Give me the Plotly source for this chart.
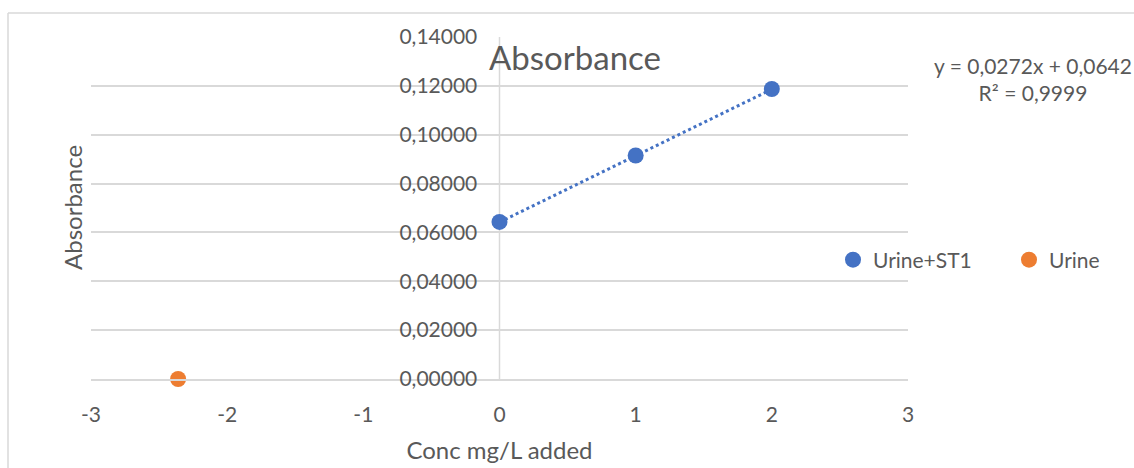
import numpy as np
import plotly.graph_objects as go

# Standard-addition data
conc_added = [0, 1, 2]
absorbance = [0.0643, 0.0915, 0.1187]

# Fitted line reported on the chart
slope = 0.0272
intercept = 0.0642
r_squared = 0.9999

# Extrapolated x-intercept (sample concentration)
urine_x = [-intercept / slope]
urine_y = [0.0]

x_ticks = [-3, -2, -1, 0, 1, 2, 3]
x_tick_labels = ["-3", "-2", "-1", "0", "1", "2", "3"]
y_ticks = [0, 0.02, 0.04, 0.06, 0.08, 0.10, 0.12, 0.14]

BLUE = "#4472C4"
ORANGE = "#ED7D31"
TEXT = "#595959"
GRID = "#D9D9D9"
FONT = "Lato"

# Plot-area geometry in pixels (used to place paper-referenced items)
L, R, T, B = 91, 908, 37, 379
PW, PH = R - L, B - T


def px(x):
    return (x - L) / PW


def py(y):
    return (B - y) / PH


fit_x = np.array([min(conc_added), max(conc_added)])
fit_y = slope * fit_x + intercept

fig = go.Figure()
fig.add_trace(go.Scatter(
    x=fit_x, y=fit_y, mode="lines",
    line=dict(color=BLUE, width=3, dash="dot"),
    showlegend=False, hoverinfo="skip",
))
fig.add_trace(go.Scatter(
    x=conc_added, y=absorbance, mode="markers", name="Urine+ST1",
    marker=dict(color=BLUE, size=16), cliponaxis=False,
))
fig.add_trace(go.Scatter(
    x=urine_x, y=urine_y, mode="markers", name="Urine",
    marker=dict(color=ORANGE, size=16), cliponaxis=False,
))

fig.update_layout(
    width=1134, height=468,
    margin=dict(l=L, r=1134 - R, t=T, b=468 - B, autoexpand=False),
    paper_bgcolor="white", plot_bgcolor="white",
    separators=",.",
    font=dict(family=FONT, color=TEXT, size=21),
    legend=dict(
        orientation="h", x=px(833), y=py(260), xanchor="left", yanchor="middle",
        font=dict(size=21, color=TEXT), entrywidth=131, entrywidthmode="pixels",
        itemwidth=30, bgcolor="rgba(0,0,0,0)",
    ),
    xaxis=dict(
        range=[-3, 3], tickvals=x_ticks, ticktext=x_tick_labels,
        showgrid=False, zeroline=False,
        showline=True, linecolor=GRID, linewidth=1.5,
        ticks="outside", ticklen=16, tickcolor="rgba(0,0,0,0)",
        tickfont=dict(size=21, color=TEXT),
        title=dict(text="Conc mg/L added", font=dict(size=24, color=TEXT), standoff=17),
    ),
    yaxis=dict(
        range=[0, 0.14], tickvals=y_ticks, tickformat=".5f",
        showgrid=True, gridcolor=GRID, gridwidth=1.5,
        zeroline=False, showline=False,
        anchor="free", position=0.5,
        ticks="outside", ticklen=18, tickcolor="rgba(0,0,0,0)",
        tickfont=dict(size=21, color=TEXT),
    ),
    annotations=[
        dict(text="Absorbance", xref="paper", yref="paper",
             x=px(575), y=py(57), showarrow=False,
             font=dict(size=33, color=TEXT), xanchor="center", yanchor="middle"),
        dict(text="Absorbance", xref="paper", yref="paper", textangle=-90,
             x=px(72), y=0.5, showarrow=False,
             font=dict(size=24, color=TEXT), xanchor="center", yanchor="middle"),
        dict(text=f"y = {slope:.4f}x + {intercept:.4f}".replace(".", ",")
             + "<br>" + f"R² = {r_squared:.4f}".replace(".", ","),
             xref="paper", yref="paper",
             x=px(1033), y=py(79), showarrow=False,
             align="center", font=dict(size=21, color=TEXT),
             xanchor="center", yanchor="middle"),
    ],
    shapes=[
        # vertical value axis crossing at x = 0
        dict(type="line", xref="x", yref="y", x0=0, x1=0,
             y0=y_ticks[0], y1=y_ticks[-1], layer="below",
             line=dict(color=GRID, width=1.5)),
        # chart border
        dict(type="line", xref="paper", yref="paper",
             x0=px(8), x1=px(1140), y0=py(13), y1=py(13),
             line=dict(color=GRID, width=1.5)),
        dict(type="line", xref="paper", yref="paper",
             x0=px(8), x1=px(8), y0=py(13), y1=py(475),
             line=dict(color=GRID, width=1.5)),
    ],
)

fig.write_html("out.html")
